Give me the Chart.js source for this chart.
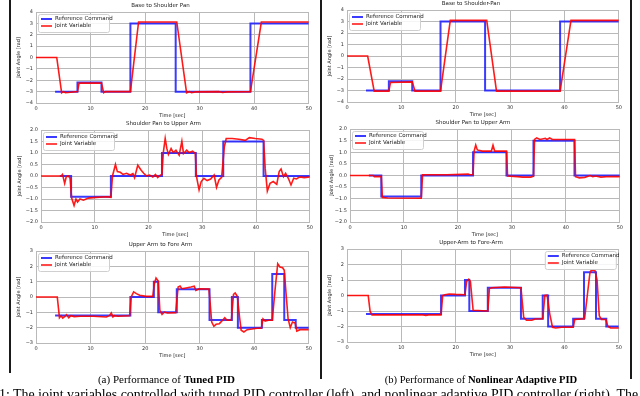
<!DOCTYPE html>
<html>
<head>
<meta charset="utf-8">
<script src="https://cdn.jsdelivr.net/npm/chart.js@4.4.0/dist/chart.umd.min.js"></script>
<style>
  body { margin: 0; background: #fff; width: 640px; height: 396px; overflow: hidden; position: relative; }
  canvas { position: absolute; }
  .vline { position: absolute; width: 2px; background: #1a1a1a; }
  .cap { position: absolute; font-family: "Liberation Serif"; color: #000; white-space: nowrap; }
</style>
</head>
<body>
<canvas id="a1"></canvas>
<canvas id="a2"></canvas>
<canvas id="a3"></canvas>
<canvas id="b1"></canvas>
<canvas id="b2"></canvas>
<canvas id="b3"></canvas>
<div class="vline" style="left:9px;top:0;height:373px"></div>
<div class="vline" style="left:320px;top:0;height:379px"></div>
<div class="vline" style="left:630px;top:0;height:379px"></div>
<div class="cap" style="left:6px;width:321px;top:374px;font-size:11px;line-height:11px;text-align:center">(a) Performance of <b>Tuned PID</b></div>
<div class="cap" style="left:321px;width:320px;top:374px;font-size:10.6px;line-height:11px;text-align:center">(b) Performance of <b>Nonlinear Adaptive PID</b></div>
<div class="cap" style="left:-1px;top:388px;font-size:13.9px;line-height:14px">1: The joint variables controlled with tuned PID controller (left), and nonlinear adaptive PID controller (right). The</div>
<script>
// time ticks / axis ranges
const timeTicks = [0, 10, 20, 30, 40, 50];

// (a) tuned PID - base to shoulder pan
const tpBaseRefT = [3.5, 7.6, 12.0, 17.3, 25.6, 39.3, 50];
const tpBaseRefV = [-3, -2.2, -3, 3, -3, 3, 3];
const tpBaseJointT = [0, 3.8, 4.7, 5.0, 5.4, 7.6, 7.9, 12.0, 12.4, 12.7, 17.3, 18.8, 25.8, 27.6, 28.1, 28.5, 29.2, 33.5, 34.2, 35.0, 39.3, 41.3, 50];
const tpBaseJointV = [0, 0, -3.1, -3.0, -3.1, -3.0, -2.25, -2.25, -3.1, -3.0, -3.0, 3.12, 3.12, -3.1, -3.0, -3.1, -3.02, -3.0, -3.08, -3.02, -3.0, 3.12, 3.12];

// (a) tuned PID - shoulder pan to upper arm
const tpShoulderRefT = [3.5, 5.6, 13.0, 22.5, 28.8, 33.9, 41.4, 50];
const tpShoulderRefV = [0, -0.9, 0, 1.0, 0, 1.5, 0, 0];
const tpShoulderJointT = [0, 3.75, 4.0, 4.4, 4.7, 5.1, 5.4, 5.7, 6.15, 6.5, 6.8, 7.25, 7.9, 8.8, 10.3, 12.2, 13.0, 13.3, 13.85, 14.2,
  14.75, 15.25, 15.9, 16.6, 17.1, 17.4, 18.0, 18.6, 19.1, 19.6, 20.2, 20.8, 21.3, 21.7, 22.2, 22.5, 22.75, 23.1, 23.4, 23.7,
  24.2, 24.6, 25.1, 25.7, 26.2, 26.5, 27.1, 27.55, 28.2, 28.7, 28.9, 29.4, 29.8, 30.3, 30.9, 31.55, 32.2, 32.65, 33.1, 33.6,
  34.1, 34.45, 35.55, 36.8, 38.0, 38.75, 39.85, 41.1, 41.4, 41.7, 42.1, 42.6, 43.2, 43.85, 44.3, 44.65, 45.1, 45.5, 46.0, 46.5,
  47.0, 47.5, 48.15, 48.95, 50];
const tpShoulderJointV = [0, 0, 0.07, -0.32, -0.03, 0, -0.1, -0.96, -1.28, -1.0, -1.13, -1.0, -1.05, -0.96, -0.93, -0.9, -0.93, 0, 0.5, 0.19,
  0.16, 0.07, 0.12, 0.04, 0.1, -0.07, 0.47, 0.26, 0.12, 0.01, 0.04, -0.04, 0.07, -0.07, 0.04, 0.07, 1.02, 1.63, 1.2, 0.94,
  1.19, 1.02, 1.12, 0.91, 1.51, 0.98, 1.12, 1.02, 1.08, 0.98, 0, -0.6, -0.24, -0.1, -0.2, -0.13, 0.04, -0.49, -0.17, -0.06,
  1.27, 1.63, 1.63, 1.6, 1.55, 1.67, 1.63, 1.6, 1.55, 0.33, -0.65, -0.32, -0.24, -0.36, 0.19, 0.3, -0.03, 0.12, -0.1, -0.39,
  -0.1, -0.13, -0.04, -0.07, -0.04];

// (a) tuned PID - upper arm to fore arm
const tpForeRefT = [3.5, 17.3, 21.6, 22.4, 25.8, 31.8, 35.9, 37.0, 41.4, 43.3, 45.5, 47.6, 50];
const tpForeRefV = [-1.2, 0, 1.0, -1.0, 0.5, -1.5, 0, -2.0, -1.5, 1.5, -1.5, -2.0, -2.0];
const tpForeJointT = [0, 3.9, 4.3, 4.6, 4.9, 5.3, 5.6, 6.0, 6.4, 7.0, 8.1, 10.5, 12.9, 13.5, 13.8, 14.1, 14.4, 15.0, 17.15, 17.45,
  17.9, 18.4, 19.0, 20.2, 21.4, 21.7, 22.0, 22.4, 22.7, 23.1, 23.5, 24.1, 25.6, 26.05, 26.4, 26.7, 27.5, 28.4, 29.0, 29.3,
  29.9, 31.7, 32.2, 32.6, 33.0, 33.6, 34.2, 34.6, 35.0, 35.8, 36.2, 36.5, 36.9, 37.3, 37.6, 38.1, 38.7, 39.6, 40.5, 41.3,
  41.6, 42.0, 42.6, 43.3, 43.8, 44.3, 44.7, 45.2, 45.5, 45.9, 46.2, 46.6, 47.0, 47.5, 47.8, 48.4, 49.0, 50];
const tpForeJointV = [0, 0, -1.35, -1.22, -1.37, -1.26, -1.15, -1.35, -1.22, -1.28, -1.26, -1.26, -1.3, -1.2, -1.04, -1.3, -1.22, -1.26, -1.22, 0,
  0.33, 0.22, 0.11, 0.04, 0.04, 0.87, 1.24, 1.04, -0.87, -1.13, -0.98, -1.04, -1.02, 0.65, 0.72, 0.54, 0.59, 0.65, 0.7, 0.43,
  0.54, 0.52, -1.63, -1.91, -1.78, -1.74, -1.52, -1.35, -1.52, -1.52, 0.17, 0.26, 0.04, -1.3, -2.17, -2.28, -2.13, -2.09, -2.04, -2.04,
  -1.43, -1.57, -1.52, -1.52, 0.43, 2.17, 1.96, 1.91, 1.74, -0.1, -1.41, -2.0, -1.63, -1.7, -2.22, -2.13, -2.13, -2.13];

// (b) adaptive PID - base to shoulder pan
const apBaseRefT = [3.5, 7.7, 12.0, 17.2, 25.4, 39.2, 50];
const apBaseRefV = [-3, -2.2, -3, 3, -3, 3, 3];
const apBaseJointT = [0, 3.8, 5.0, 7.7, 8.0, 12.0, 12.5, 17.2, 19.0, 25.7, 27.5, 39.2, 41.2, 50];
const apBaseJointV = [0, 0, -3.05, -3.05, -2.3, -2.25, -3.05, -3.05, 3.1, 3.1, -3.05, -3.05, 3.1, 3.1];

// (b) adaptive PID - shoulder pan to upper arm
const apShoulderRefT = [3.5, 5.8, 13.2, 22.8, 29.0, 34.0, 41.6, 50];
const apShoulderRefV = [0, -0.9, 0, 1.0, 0, 1.5, 0, 0];
const apShoulderJointT = [0, 4.3, 4.5, 5.8, 6.0, 7.0, 13.2, 13.45, 18.0, 21.9, 22.2, 22.8, 23.0, 23.3, 23.6, 24.5, 26.2, 26.5, 26.8, 29.0,
  29.2, 31.0, 32.0, 33.5, 34.0, 34.2, 34.6, 35.2, 36.2, 36.5, 37.0, 37.5, 41.6, 41.8, 42.5, 43.5, 44.5, 45.0, 45.5, 46.5, 48.0, 50];
const apShoulderJointV = [0, 0, -0.05, -0.04, -0.95, -0.97, -0.98, 0.03, 0.03, 0.06, 0.03, 0.04, 1.05, 1.31, 1.1, 1.05, 1.05, 1.3, 1.05, 1.05,
  -0.02, -0.05, -0.07, -0.07, -0.03, 1.55, 1.62, 1.55, 1.6, 1.55, 1.62, 1.55, 1.55, -0.05, -0.1, -0.08, 0.0, -0.05, -0.02, -0.07, -0.04, -0.05];

// (b) adaptive PID - upper arm to fore arm
const apForeRefT = [3.5, 17.3, 21.7, 22.5, 25.9, 32.0, 36.0, 37.0, 41.6, 43.6, 45.8, 47.7, 50];
const apForeRefV = [-1.2, 0, 1.0, -1.0, 0.5, -1.5, 0, -2.0, -1.5, 1.5, -1.5, -2.0, -2.0];
const apForeJointT = [0, 3.9, 4.25, 4.6, 14.0, 14.5, 15.0, 17.3, 17.6, 18.0, 18.8, 20.0, 21.7, 22.0, 22.4, 22.7, 23.2, 25.9, 26.2, 26.6,
  29.0, 32.0, 32.5, 33.0, 34.0, 34.6, 36.0, 36.4, 36.8, 37.3, 37.8, 38.4, 39.5, 41.6, 41.9, 43.7, 44.2, 44.7, 45.0, 45.6,
  46.0, 46.4, 46.8, 47.6, 48.0, 48.5, 50];
const apForeJointV = [0, 0, -1.03, -1.25, -1.25, -1.28, -1.25, -1.25, 0.0, 0.05, 0.1, 0.07, 0.05, 0.9, 1.05, 0.9, -0.95, -1.0, 0.45, 0.5,
  0.55, 0.5, -1.4, -1.6, -1.6, -1.52, -1.5, 0.0, 0.02, -1.2, -2.05, -2.1, -2.05, -2.05, -1.55, -1.5, 0.0, 1.5, 1.65, 1.62,
  1.0, -1.3, -1.55, -1.55, -2.0, -2.1, -2.1];

const FONT = '"DejaVu Sans"';
const GRID = '#b9b9b9';
const BLUE = 'rgba(25,25,255,0.85)';
const RED = 'rgba(255,0,0,0.9)';

const pts = (t, v) => t.map((x, i) => ({ x: x, y: v[i] }));

// legend box drawn inside the plot area, like matplotlib
const insideLegend = {
  id: 'insideLegend',
  afterDatasetsDraw(chart, args, opts) {
    const { ctx, chartArea: a } = chart;
    const w = 71, h = 18;
    const x = opts.side === 'right' ? a.right - w - 3 : a.left + 2;
    const y = a.top + 2;
    ctx.save();
    ctx.fillStyle = 'rgba(255,255,255,0.85)';
    ctx.strokeStyle = '#cfcfcf';
    ctx.lineWidth = 1;
    ctx.beginPath();
    ctx.roundRect(x + 0.5, y + 0.5, w, h, 2);
    ctx.fill();
    ctx.stroke();
    chart.data.datasets.forEach((ds, i) => {
      const yy = y + 5 + i * 7;
      ctx.strokeStyle = ds.borderColor;
      ctx.lineWidth = ds.borderWidth;
      ctx.beginPath();
      ctx.moveTo(x + 3, yy);
      ctx.lineTo(x + 14, yy);
      ctx.stroke();
      ctx.fillStyle = '#222';
      ctx.font = '5.5px ' + FONT;
      ctx.textBaseline = 'middle';
      ctx.fillText(ds.label, x + 17, yy);
    });
    ctx.restore();
  }
};

function angleLabel(dec) {
  return v => (v < 0 ? '\u2212' : '') + Math.abs(v).toFixed(dec);
}

function drawPanel(id, box, title, yMin, yMax, yStep, dec, refT, refV, jointT, jointV, side) {
  const cv = document.getElementById(id);
  const x0 = box.l - 26, y0 = box.t - 12;
  cv.width = box.r + 4 - x0;
  cv.height = box.b + 20 - y0;
  cv.style.left = x0 + 'px';
  cv.style.top = y0 + 'px';
  new Chart(cv, {
    type: 'line',
    data: {
      datasets: [
        { label: 'Reference Command', data: pts(refT, refV), borderColor: BLUE, borderWidth: 2,
          stepped: 'before', pointRadius: 0, order: 1 },
        { label: 'Joint Variable', data: pts(jointT, jointV), borderColor: RED, borderWidth: 1.6,
          pointRadius: 0, tension: 0, order: 0 }
      ]
    },
    options: {
      responsive: false,
      animation: false,
      events: [],
      layout: { padding: { left: 0, right: 4, top: 0, bottom: 0 } },
      plugins: {
        legend: { display: false },
        tooltip: { enabled: false },
        title: {
          display: true, text: title, color: '#222',
          font: { family: FONT, size: 5.5, weight: 'normal', lineHeight: 1 },
          padding: { top: 3, bottom: 3.5 }
        },
        insideLegend: { side: side }
      },
      scales: {
        x: {
          type: 'linear', min: 0, max: 50,
          afterFit: s => { s.height = 20; },
          afterBuildTicks: s => { s.ticks = timeTicks.map(v => ({ value: v })); },
          ticks: { color: '#333', font: { family: FONT, size: 5 }, padding: 3, maxRotation: 0, autoSkip: false },
          grid: { color: GRID, drawTicks: false },
          border: { color: GRID },
          title: { display: true, text: 'Time [sec]', color: '#222',
            font: { family: FONT, size: 5, lineHeight: 1 }, padding: { top: 0, bottom: 4.5 } }
        },
        y: {
          min: yMin, max: yMax,
          afterFit: s => { s.width = 26; },
          ticks: { stepSize: yStep, color: '#333', font: { family: FONT, size: 5 }, padding: 3,
            autoSkip: false, callback: angleLabel(dec) },
          grid: { color: GRID, drawTicks: false },
          border: { color: GRID },
          title: { display: true, text: 'Joint Angle [rad]', color: '#222',
            font: { family: FONT, size: 5, lineHeight: 1 }, padding: { top: box.ylab - x0 - 2.5, bottom: 0 } }
        }
      }
    },
    plugins: [insideLegend]
  });
}

drawPanel('a1', { l: 36, t: 12, r: 311, b: 103, ylab: 19 }, 'Base to Shoulder Pan', -4, 4, 1, 0,
  tpBaseRefT, tpBaseRefV, tpBaseJointT, tpBaseJointV, 'left');
drawPanel('a2', { l: 41, t: 130, r: 312, b: 222, ylab: 20 }, 'Shoulder Pan to Upper Arm', -2, 2, 0.5, 1,
  tpShoulderRefT, tpShoulderRefV, tpShoulderJointT, tpShoulderJointV, 'left');
drawPanel('a3', { l: 36, t: 251, r: 311, b: 343, ylab: 19 }, 'Upper Arm to Fore Arm', -3, 3, 1, 0,
  tpForeRefT, tpForeRefV, tpForeJointT, tpForeJointV, 'left');
drawPanel('b1', { l: 347, t: 10, r: 621, b: 102, ylab: 330 }, 'Base to Shoulder-Pan', -4, 4, 1, 0,
  apBaseRefT, apBaseRefV, apBaseJointT, apBaseJointV, 'left');
drawPanel('b2', { l: 350, t: 129, r: 622, b: 222, ylab: 332 }, 'Shoulder Pan to Upper Arm', -2, 2, 0.5, 1,
  apShoulderRefT, apShoulderRefV, apShoulderJointT, apShoulderJointV, 'left');
drawPanel('b3', { l: 347, t: 249, r: 621, b: 342, ylab: 330 }, 'Upper-Arm to Fore-Arm', -3, 3, 1, 0,
  apForeRefT, apForeRefV, apForeJointT, apForeJointV, 'right');
</script>
</body>
</html>
